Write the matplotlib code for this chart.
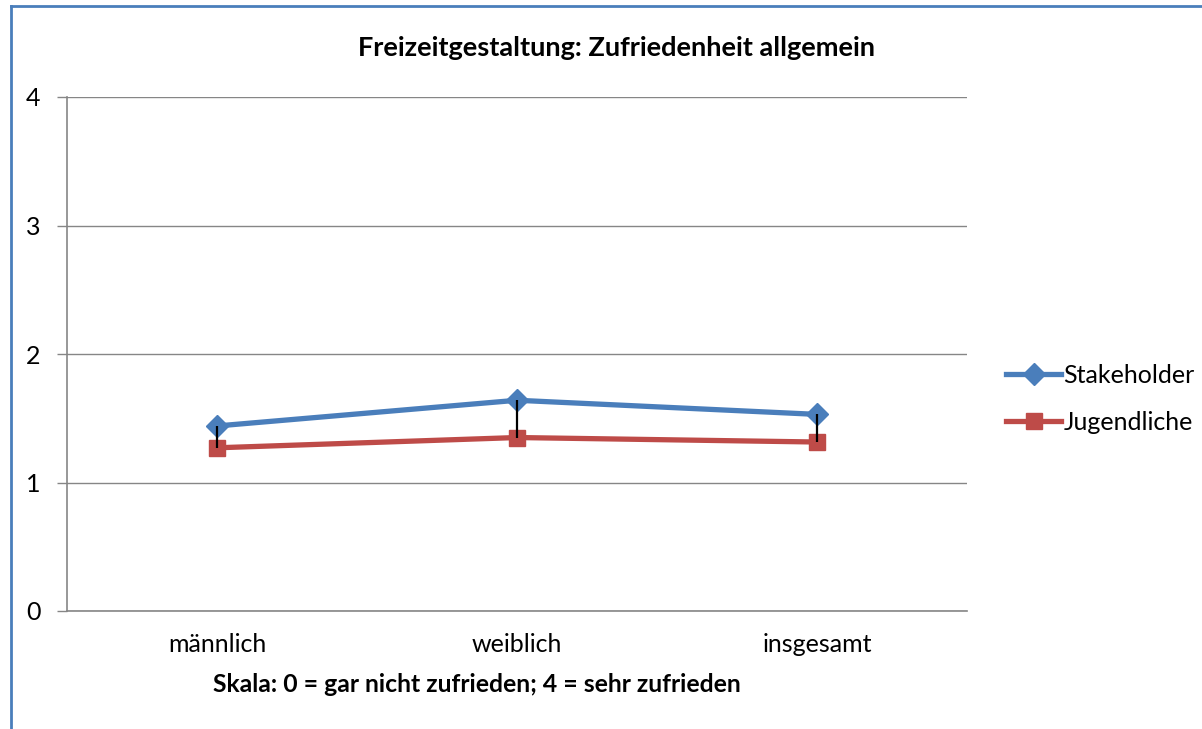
import matplotlib
matplotlib.use("Agg")
import matplotlib.pyplot as plt
from matplotlib.lines import Line2D
import numpy as np

kategorien = ["männlich", "weiblich", "insgesamt"]
stakeholder = [1.44, 1.64, 1.53]
jugendliche = [1.27, 1.35, 1.315]
yticks = [0, 1, 2, 3, 4]

blau = "#4A7EBB"
rot = "#BE4B48"
grau = "#868686"

plt.rcParams['font.family'] = ['Lato', 'DejaVu Sans']

fig = plt.figure(figsize=(12.02, 7.29), dpi=100)
ax = fig.add_axes([67/1202, (729-611)/729, 900/1202, 514/729])

x = np.arange(len(kategorien))

ax.plot(x, stakeholder, color=blau, lw=3.8, marker="D", ms=11, zorder=3, label="Stakeholder")
ax.plot(x, jugendliche, color=rot, lw=3.8, marker="s", ms=12, zorder=3, label="Jugendliche")
# high-low Linien zwischen den Serien
ax.vlines(x, jugendliche, stakeholder, color="black", lw=1.6, zorder=5)

ax.set_xlim(-0.5, 2.5)
ax.set_ylim(0, 4)
ax.set_yticks(yticks)
ax.set_xticks(x)
ax.set_xticklabels(kategorien, fontsize=18)
ax.tick_params(axis="y", length=7, width=1, color=grau, labelsize=18, pad=12)
ax.tick_params(axis="x", length=0, pad=16)
ax.yaxis.grid(True, color=grau, lw=1)
ax.set_axisbelow(True)
for s in ["top", "right"]:
    ax.spines[s].set_visible(False)
for s in ["left", "bottom"]:
    ax.spines[s].set_color(grau)
    ax.spines[s].set_linewidth(1.2)

fig.text(616/1202, 1 - 48/729, "Freizeitgestaltung: Zufriedenheit allgemein",
         ha="center", va="center", fontsize=19.5, fontweight="bold")
fig.text(477/1202, 1 - 685/729, "Skala: 0 = gar nicht zufrieden; 4 = sehr zufrieden",
         ha="center", va="center", fontsize=17.8, fontweight="bold")

handles = [Line2D([], [], color=blau, lw=3.8, marker="D", ms=11),
           Line2D([], [], color=rot, lw=3.8, marker="s", ms=12)]
fig.legend(handles, ["Stakeholder", "Jugendliche"], loc="center left",
           bbox_to_anchor=(1006/1202, 1 - 399/729), frameon=False, fontsize=18,
           handlelength=2.2, handletextpad=0.1, labelspacing=0.95,
           borderaxespad=0, borderpad=0)

# Rahmen links und oben
fig.add_artist(Line2D([11/1202, 11/1202], [0, 1 - 6/729], color=blau, lw=2, transform=fig.transFigure))
fig.add_artist(Line2D([11/1202, 1], [1 - 6/729, 1 - 6/729], color=blau, lw=2, transform=fig.transFigure))

fig.savefig("out.png", dpi=100)
